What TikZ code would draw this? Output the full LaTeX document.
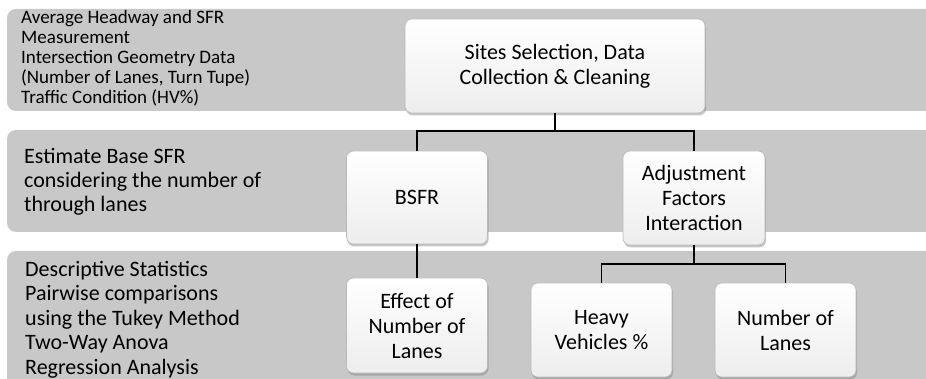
\documentclass[tikz,border=0pt]{standalone}
\usepackage{fontspec}
\setmainfont{Carlito}
\usetikzlibrary{shadows}
\definecolor{bandgray}{RGB}{200,200,200}
\definecolor{boxedge}{RGB}{185,185,185}
\begin{document}
\begin{tikzpicture}[x=1pt,y=-1pt,
  band/.style={fill=bandgray, rounded corners=9pt},
  sidetext/.style={anchor=north west, inner sep=0pt, align=left},
  stepbox/.style={draw=boxedge, line width=0.6pt, rounded corners=7pt,
    top color=white, bottom color=gray!14, align=center, inner sep=2pt,
    font=\fontsize{22}{25}\selectfont,
    drop shadow={opacity=0.45, shadow xshift=1pt, shadow yshift=-2.5pt}},
  link/.style={line width=1.7pt, black}]
\useasboundingbox (0,0) rectangle (926,379);
\begin{scope}
\clip (0,0) rectangle (926,379);
% bands
\fill[band] (7,9) rectangle (950,111);
\fill[band] (7,130) rectangle (950,232);
\fill[band] (7,251) rectangle (950,420);
\end{scope}
% side texts
\node[sidetext, font=\fontsize{19}{20}\selectfont] (t1) at (21,10.5)
  {Average Headway and SFR\\Measurement\\Intersection Geometry Data\\(Number of Lanes, Turn Tupe)\\Traffic Condition (HV\%)};
\node[sidetext, font=\fontsize{22}{24}\selectfont] (t2) at (24,148.5)
  {Estimate Base SFR\\considering the number of\\through lanes};
\node[sidetext, font=\fontsize{22}{24.5}\selectfont] (t3) at (25,261)
  {Descriptive Statistics\\Pairwise comparisons\\using the Tukey Method\\Two-Way Anova\\Regression Analysis};
% boxes
\node[stepbox, minimum width=300pt, minimum height=94pt] (top) at (555,66)
  {Sites Selection, Data\\Collection \& Cleaning};
\node[stepbox, minimum width=141pt, minimum height=93pt] (bsfr) at (417,197.5) {BSFR};
\node[stepbox, minimum width=142pt, minimum height=94pt] (adj) at (694,198)
  {Adjustment\\Factors\\Interaction};
\node[stepbox, minimum width=141pt, minimum height=95pt] (eff) at (417,325.5)
  {Effect of\\Number of\\Lanes};
\node[stepbox, minimum width=141pt, minimum height=94pt] (hv) at (601.5,330)
  {Heavy\\Vehicles \%};
\node[stepbox, minimum width=141pt, minimum height=94pt] (nl) at (785.5,330)
  {Number of\\Lanes};
% connectors
\draw[link] (top.south) -- (top.south |- 0,131) -| (bsfr.north);
\draw[link] (top.south |- 0,131) -| (adj.north);
\draw[link] (bsfr.south) -- (eff.north);
\draw[link] (adj.south) -- (adj.south |- 0,264) -| (hv.north);
\draw[link] (adj.south |- 0,264) -| (nl.north);
\end{tikzpicture}
\end{document}
